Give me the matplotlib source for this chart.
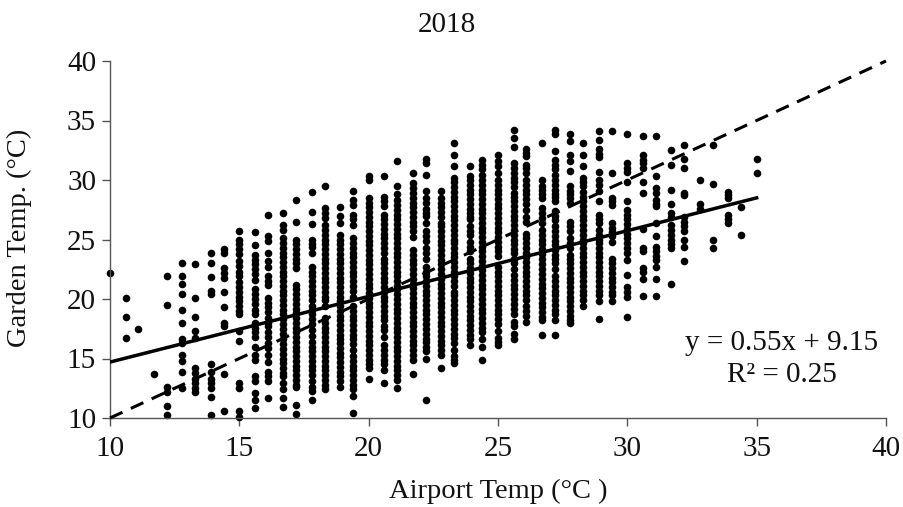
#!/usr/bin/env python3
import matplotlib
matplotlib.use("Agg")
import matplotlib.pyplot as plt

plt.rcParams["font.family"] = ["Liberation Serif", "DejaVu Serif"]

# air temperature columns (deg C) and the garden readings seen in each one
air_temps = [10.0, 10.6, 11.1, 11.7, 12.2, 12.8, 13.3, 13.9, 14.4, 15.0, 15.6, 16.1,
             16.7, 17.2, 17.8, 18.3, 18.9, 19.4, 20.0, 20.6, 21.1, 21.7, 22.2, 22.8,
             23.3, 23.9, 24.4, 25.0, 25.6, 26.1, 26.7, 27.2, 27.8, 28.3, 28.9, 29.4,
             30.0, 30.6, 31.1, 31.7, 32.2, 32.8, 33.3, 33.9, 34.4, 35.0]

garden_temps = [
    [22.2],
    [20.1, 18.5, 16.7],
    [17.5],
    [13.7],
    [21.9, 19.5, 12.6, 12.2, 11.0, 10.25],
    [23.0, 21.9, 21.25, 20.4, 19.1, 18.0, 16.65, 16.3, 15.3, 14.8, 13.9, 12.55],
    [22.9, 20.1, 18.5, 17.3, 16.7, 14.2, 13.8, 13.3, 12.9, 12.5, 12.2],
    [23.9, 23.0, 21.85, 20.7, 20.4, 14.5, 13.9, 13.3, 12.9, 12.5, 11.8, 10.25],
    [24.2, 23.9, 22.6, 22.2, 21.8, 20.6, 19.3, 18.0, 17.7, 13.7, 10.6],
    [25.7, 25.0, 24.6, 24.2, 23.8, 23.2, 22.8, 22.3, 21.9, 21.4, 21.0, 20.6, 20.2,
     19.8, 19.4, 19.0, 18.7, 17.3, 16.5, 12.9, 12.5, 10.6, 10.05],
    [25.65, 24.55, 23.7, 23.3, 22.9, 22.5, 22.1, 21.6, 20.8, 20.4, 20.0, 19.6, 19.1,
     18.75, 18.0, 17.6, 17.2, 16.8, 15.95, 15.3, 14.9, 13.5, 13.1, 12.1, 11.5, 10.8],
    [27.1, 25.3, 24.9, 23.9, 23.2, 22.7, 21.9, 21.5, 21.2, 20.1, 19.7, 19.3, 18.9,
     18.4, 18.0, 17.7, 17.2, 16.8, 16.3, 15.9, 15.3, 14.7, 13.9, 13.5, 13.1, 11.7],
    [27.2, 26.2, 25.8, 25.1, 24.7, 24.3, 23.9, 23.5, 23.1, 22.7, 22.3, 21.9, 21.5,
     21.1, 20.7, 20.3, 19.9, 19.5, 19.1, 18.7, 18.3, 17.9, 17.5, 17.1, 16.6, 16.2,
     15.8, 15.4, 15.0, 14.6, 14.2, 13.8, 13.5, 12.9, 12.4, 11.65, 10.95],
    [28.3, 26.5, 25.0, 24.6, 24.2, 23.8, 23.4, 23.0, 22.6, 21.2, 20.8, 20.4, 20.0,
     19.6, 19.2, 18.8, 18.4, 18.0, 17.6, 17.2, 16.8, 16.4, 16.0, 15.6, 15.2, 14.8,
     14.4, 14.0, 13.6, 13.2, 12.8, 12.6, 11.1, 10.3],
    [29.0, 27.3, 26.3, 25.0, 24.6, 24.4, 23.9, 22.7, 22.3, 21.9, 21.5, 21.1, 20.7,
     20.3, 19.9, 19.4, 19.1, 18.7, 18.3, 17.9, 17.4, 16.85, 16.4, 16.0, 15.6, 15.2,
     14.8, 14.4, 14.0, 13.6, 13.1, 12.6, 12.3, 11.5],
    [29.5, 27.65, 27.2, 26.8, 26.2, 25.8, 25.4, 25.0, 24.6, 24.2, 23.8, 23.4, 23.0,
     22.6, 22.2, 21.8, 21.4, 21.0, 20.6, 20.2, 19.9, 19.4, 18.4, 18.0, 17.6, 17.2,
     16.8, 16.4, 16.0, 15.6, 15.2, 14.8, 14.4, 14.0, 13.6, 13.2, 12.8, 12.4],
    [27.7, 27.0, 26.4, 25.4, 25.0, 24.6, 24.2, 23.8, 23.4, 23.0, 22.6, 22.2, 21.8,
     21.4, 21.0, 20.6, 20.2, 19.8, 19.4, 19.0, 18.6, 18.2, 17.8, 17.4, 17.0, 16.6,
     16.3, 15.9, 15.5, 15.1, 14.7, 14.3, 13.9, 13.5, 13.1, 12.6],
    [29.1, 28.35, 27.9, 27.1, 26.7, 26.2, 25.1, 24.7, 24.3, 23.9, 23.5, 23.1, 22.7,
     22.3, 21.9, 21.5, 21.1, 20.7, 20.2, 19.4, 19.0, 18.6, 18.2, 17.8, 17.4, 17.0,
     16.6, 16.2, 15.7, 15.2, 14.8, 14.4, 14.0, 13.6, 13.2, 12.8, 12.4, 11.85, 10.4],
    [30.3, 30.0, 28.5, 28.1, 27.7, 27.3, 26.9, 26.5, 26.1, 25.7, 25.3, 24.9, 24.5,
     24.1, 23.7, 23.3, 22.9, 22.5, 22.1, 21.7, 21.3, 20.9, 20.5, 20.1, 19.7, 19.3,
     18.9, 18.5, 18.1, 17.7, 17.3, 16.9, 16.5, 16.1, 15.7, 15.3, 14.9, 14.5, 14.2, 13.25],
    [30.3, 28.6, 28.2, 27.8, 27.1, 26.7, 26.3, 25.9, 25.5, 25.1, 24.7, 24.3, 23.9,
     23.4, 23.0, 22.6, 22.2, 21.8, 21.4, 21.0, 20.6, 20.2, 19.8, 19.4, 19.0, 18.6,
     18.2, 17.7, 17.4, 16.8, 16.1, 15.7, 15.3, 14.9, 14.5, 14.0, 12.9],
    [31.6, 29.5, 28.85, 28.35, 27.9, 27.5, 27.1, 26.7, 26.3, 25.9, 25.5, 25.1, 24.7,
     24.3, 23.9, 23.5, 23.1, 22.7, 22.3, 21.9, 21.5, 21.1, 20.8, 20.4, 20.0, 19.6,
     19.2, 18.8, 18.4, 18.0, 17.6, 17.2, 16.8, 16.4, 16.0, 15.6, 15.2, 14.8, 14.4,
     14.0, 13.6, 13.2, 12.55],
    [30.6, 29.75, 29.3, 28.9, 28.5, 28.1, 27.7, 27.3, 26.9, 26.5, 26.1, 25.7, 25.25,
     24.1, 23.7, 23.3, 22.9, 22.5, 22.1, 21.7, 21.3, 20.9, 20.5, 20.1, 19.7, 19.3,
     18.9, 18.5, 18.1, 17.7, 17.3, 16.9, 16.5, 16.1, 15.7, 15.3, 14.9, 13.7],
    [31.8, 31.4, 30.45, 29.1, 28.5, 28.1, 27.6, 27.2, 27.0, 26.4, 25.7, 25.3, 24.9,
     24.3, 23.9, 23.4, 22.7, 22.3, 21.9, 21.5, 21.1, 20.7, 20.3, 19.9, 19.5, 19.1,
     18.7, 18.3, 17.9, 17.5, 17.1, 16.6, 16.4, 16.0, 15.6, 15.0, 11.5],
    [29.05, 28.5, 28.1, 27.7, 27.3, 26.9, 26.4, 26.1, 25.7, 25.3, 24.9, 24.5, 24.1,
     23.7, 23.3, 22.9, 22.5, 22.1, 21.7, 21.3, 20.9, 20.5, 20.1, 19.7, 19.3, 18.9,
     18.5, 18.1, 17.7, 17.3, 16.9, 16.5, 16.1, 15.7, 15.3, 14.2],
    [33.1, 32.1, 31.2, 30.2, 29.8, 29.4, 29.0, 28.6, 28.2, 27.8, 27.4, 27.0, 26.6,
     26.2, 25.8, 25.4, 25.0, 24.7, 24.3, 23.9, 23.5, 23.1, 22.7, 22.3, 21.9, 21.5,
     21.1, 20.6, 20.35, 19.9, 19.5, 19.1, 18.7, 18.3, 17.9, 17.5, 17.1, 16.7, 16.3,
     15.7, 15.2, 14.9, 14.6],
    [31.2, 30.3, 30.0, 29.6, 29.2, 28.8, 28.4, 28.0, 27.6, 27.2, 26.9, 26.7, 26.1,
     25.7, 25.4, 24.8, 24.4, 24.0, 23.4, 23.0, 22.6, 22.2, 21.8, 21.4, 21.0, 20.6,
     20.2, 19.8, 19.4, 19.0, 18.6, 18.2, 17.8, 17.4, 17.0, 16.6, 16.1],
    [31.7, 31.3, 30.9, 30.45, 30.0, 29.6, 29.2, 28.8, 28.4, 28.0, 27.6, 27.2, 26.8,
     26.4, 26.0, 25.6, 25.2, 24.8, 24.4, 24.0, 23.6, 23.2, 22.8, 22.4, 22.0, 21.6,
     21.2, 20.8, 20.4, 20.0, 19.6, 19.2, 18.8, 18.4, 18.0, 17.6, 17.2, 16.6, 15.95, 14.9],
    [32.1, 31.6, 31.2, 30.6, 30.0, 29.6, 29.2, 28.8, 28.4, 28.0, 27.65, 27.2, 26.8,
     26.4, 26.0, 25.6, 25.2, 24.8, 24.4, 24.0, 23.6, 22.7, 22.3, 21.9, 21.5, 21.1,
     20.7, 20.3, 19.9, 19.5, 19.1, 18.7, 18.3, 17.9, 17.3, 16.7, 16.4, 16.1],
    [34.2, 33.5, 32.75, 31.4, 31.0, 30.6, 30.2, 29.8, 29.4, 28.9, 28.6, 28.2, 27.8,
     27.4, 27.0, 26.6, 26.2, 25.8, 25.4, 25.0, 24.6, 24.2, 23.9, 23.4, 23.0, 22.5,
     22.0, 21.6, 21.2, 20.8, 20.4, 20.0, 19.6, 19.2, 18.7, 18.1, 17.7, 17.1, 16.65],
    [32.6, 32.3, 32.0, 31.3, 31.0, 30.6, 30.0, 29.6, 29.2, 28.8, 28.4, 28.0, 27.5,
     26.9, 26.5, 25.5, 25.1, 24.7, 24.3, 23.9, 23.5, 23.1, 22.7, 22.3, 21.9, 21.5,
     21.1, 20.7, 20.3, 19.9, 19.4, 19.0, 18.6, 18.1],
    [33.1, 30.0, 29.5, 29.2, 28.8, 28.5, 27.65, 27.2, 26.8, 26.4, 25.8, 25.4, 25.0,
     24.6, 24.2, 23.8, 23.4, 22.9, 22.5, 22.1, 21.7, 21.3, 20.9, 20.5, 20.1, 19.7,
     19.3, 18.9, 18.5, 18.25, 17.0],
    [34.2, 33.9, 32.4, 31.7, 31.3, 30.9, 30.45, 30.0, 29.6, 29.2, 28.8, 28.6, 28.2,
     27.4, 27.0, 26.6, 26.1, 25.7, 25.3, 24.9, 24.5, 24.1, 23.7, 23.4, 23.0, 22.5,
     21.9, 21.5, 21.1, 20.7, 20.3, 19.9, 19.5, 19.1, 18.7, 18.25, 17.0],
    [33.9, 33.3, 32.1, 31.6, 30.75, 29.5, 29.1, 28.8, 28.5, 28.1, 26.5, 26.1, 25.7,
     25.1, 24.7, 24.3, 23.7, 23.4, 23.0, 22.6, 22.2, 21.8, 21.4, 21.0, 20.6, 20.2,
     19.8, 19.4, 19.0, 18.6, 18.2, 18.0],
    [33.1, 32.1, 31.2, 30.2, 29.8, 29.5, 29.0, 28.6, 28.2, 27.8, 27.4, 27.0, 26.6,
     26.2, 25.8, 25.4, 25.0, 24.7, 24.3, 23.9, 23.5, 23.1, 22.7, 22.3, 21.9, 21.5,
     21.1, 20.7, 20.3, 19.9, 19.4],
    [34.1, 33.4, 32.6, 32.2, 31.9, 30.7, 30.0, 29.6, 29.05, 28.2, 27.1, 26.7, 26.4,
     25.8, 25.4, 25.0, 24.7, 24.3, 23.9, 23.5, 23.1, 22.7, 22.3, 21.9, 21.5, 21.1,
     20.7, 20.3, 19.8, 18.3],
    [34.1, 30.6, 28.5, 28.2, 27.9, 26.4, 26.0, 25.6, 25.3, 24.8, 23.4, 23.0, 22.6,
     22.2, 21.8, 21.4, 21.0, 20.6, 20.35, 19.8],
    [33.85, 31.4, 31.0, 30.7, 29.8, 28.25, 27.5, 27.1, 26.7, 26.3, 25.9, 25.5, 25.1,
     24.7, 24.3, 23.9, 23.3, 22.0, 21.0, 20.6, 20.2, 18.45],
    [33.7, 32.1, 31.7, 31.4, 31.0, 29.8, 28.9, 25.9, 24.25, 24.0, 22.6, 22.3, 21.7, 20.25],
    [33.7, 30.3, 29.3, 28.9, 28.3, 28.0, 27.8, 26.4, 25.3, 24.4, 24.0, 23.6, 23.3,
     22.7, 21.7, 20.25],
    [32.5, 31.3, 29.2, 28.0, 27.2, 26.9, 26.2, 25.8, 25.4, 25.0, 24.6, 24.3, 21.3],
    [32.9, 31.8, 31.0, 28.9, 28.7, 26.9, 26.5, 26.1, 25.7, 25.0, 24.4, 23.2],
    [30.0, 28.0, 27.6],
    [32.9, 29.7, 25.0, 24.3],
    [29.0, 28.7, 28.5, 27.1, 26.7, 26.4],
    [27.7, 25.4],
    [31.8, 30.6],
]

# fitted line and the 1:1 line
fit_x = [10, 35]
fit_y = [14.7, 28.5]
one_x = [10, 40]
one_y = [10, 40]

ticks_x = [10, 15, 20, 25, 30, 35, 40]
ticks_y = [10, 15, 20, 25, 30, 35, 40]

fig = plt.figure(figsize=(9.04, 5.07), dpi=100)
ax = fig.add_axes([110 / 904, 1 - 418 / 507, 776 / 904, 357 / 507])

xs = []
ys = []
for a, col in zip(air_temps, garden_temps):
    xs += [a] * len(col)
    ys += col
ax.scatter(xs, ys, s=30, c="black", linewidths=0, clip_on=False, zorder=2)

ax.plot(fit_x, fit_y, color="black", lw=2.5, zorder=3)
ax.plot(one_x, one_y, color="black", lw=2.2, dashes=(4.5, 3.0), zorder=3, clip_on=False)

ax.set_xlim(10, 40)
ax.set_ylim(10, 40)
ax.set_xticks(ticks_x)
ax.set_yticks(ticks_y)
ax.tick_params(labelsize=21, length=6, width=1, color="#555555", labelcolor="#111111")
ax.tick_params(axis="x", pad=7)
ax.tick_params(axis="y", pad=4)
for side in ("top", "right"):
    ax.spines[side].set_visible(False)
for side in ("left", "bottom"):
    ax.spines[side].set_color("#555555")
    ax.spines[side].set_linewidth(1)

fig.text(447 / 904, 1 - 25 / 507, "2018", ha="center", va="center", fontsize=21, color="#111111")
fig.text(498 / 904, 1 - 491 / 507, "Airport Temp (°C )", ha="center", va="center", fontsize=20.5, color="#111111")
fig.text(19 / 904, 1 - 238 / 507, "Garden Temp. (°C)", ha="center", va="center", rotation=90, fontsize=20.5, color="#111111")
fig.text(782 / 904, 1 - 343 / 507, "y = 0.55x + 9.15", ha="center", va="center", fontsize=21, color="#111111")
fig.text(782 / 904, 1 - 375 / 507, "R² = 0.25", ha="center", va="center", fontsize=21, color="#111111")

fig.savefig("out.png", dpi=100)
